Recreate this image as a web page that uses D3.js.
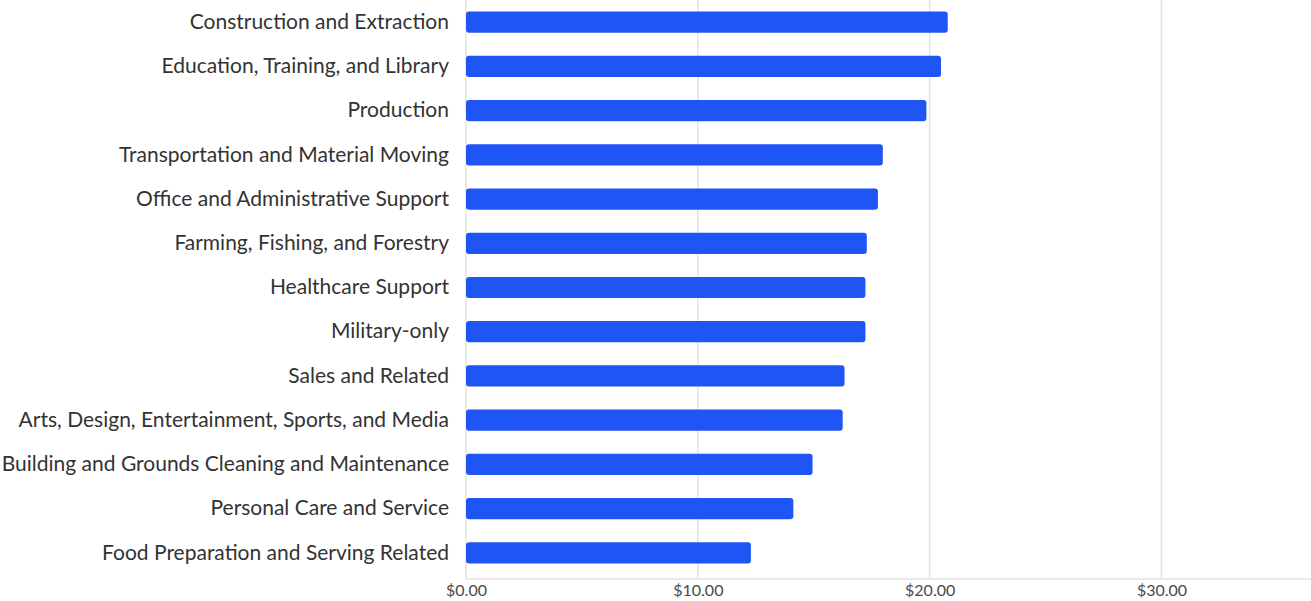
<!DOCTYPE html>
<html>
<head>
<meta charset="utf-8">
<script src="https://cdn.jsdelivr.net/npm/d3@7"></script>
<style>
  html, body { margin: 0; padding: 0; background: #fff; }
  svg { display: block; }
  text { font-family: Lato, "Open Sans", sans-serif; }
</style>
</head>
<body>
<svg id="chart" width="1311" height="601"></svg>
<script>
const categories = [
  "Construction and Extraction",
  "Education, Training, and Library",
  "Production",
  "Transportation and Material Moving",
  "Office and Administrative Support",
  "Farming, Fishing, and Forestry",
  "Healthcare Support",
  "Military-only",
  "Sales and Related",
  "Arts, Design, Entertainment, Sports, and Media",
  "Building and Grounds Cleaning and Maintenance",
  "Personal Care and Service",
  "Food Preparation and Serving Related"
];
const values = [20.78, 20.49, 19.86, 17.98, 17.77, 17.29, 17.23, 17.23, 16.33, 16.25, 14.95, 14.12, 12.29];
const tickValues = [0, 10, 20, 30];
const tickLabels = ["$0.00", "$10.00", "$20.00", "$30.00"];

const svg = d3.select("#chart");
const mLeft = 466, mRight = 1311, mTop = 0, mBottom = 575, axisY = 579;

const x = d3.scaleLinear().domain([0, 36.45]).range([mLeft, mRight]);
const y = d3.scaleBand().domain(categories).range([mTop, mBottom])
  .paddingInner(0.52).paddingOuter(0.26);

// gridlines
svg.append("g").selectAll("line").data(tickValues).join("line")
  .attr("x1", d => x(d)).attr("x2", d => x(d))
  .attr("y1", 0).attr("y2", axisY)
  .attr("stroke", "#e3e3e3").attr("stroke-width", 1.5);

// axis baseline
svg.append("line")
  .attr("x1", mLeft).attr("x2", mRight)
  .attr("y1", axisY).attr("y2", axisY)
  .attr("stroke", "#e3e3e3").attr("stroke-width", 1.5);

// x axis labels
const xAxis = d3.axisBottom(x).tickValues(tickValues)
  .tickFormat((d, i) => tickLabels[i]).tickSize(0).tickPadding(6);
const gx = svg.append("g").attr("transform", `translate(0,${axisY})`).call(xAxis);
gx.select(".domain").remove();
gx.selectAll("text").attr("fill", "#4a4a4a").style("font-size", "16px")
  .style("font-family", "Lato, sans-serif");

// bars
svg.append("g").selectAll("rect").data(values).join("rect")
  .attr("x", x(0))
  .attr("y", (d, i) => y(categories[i]))
  .attr("width", d => x(d) - x(0))
  .attr("height", y.bandwidth())
  .attr("rx", 3).attr("ry", 3)
  .attr("fill", "#2055f5");

// y labels
const yAxis = d3.axisLeft(y).tickSize(0).tickPadding(17);
const gy = svg.append("g").attr("transform", `translate(${mLeft},0)`).call(yAxis);
gy.select(".domain").remove();
gy.selectAll("text").attr("fill", "#333").style("font-size", "21px")
  .style("font-family", "Lato, sans-serif");
</script>
</body>
</html>
